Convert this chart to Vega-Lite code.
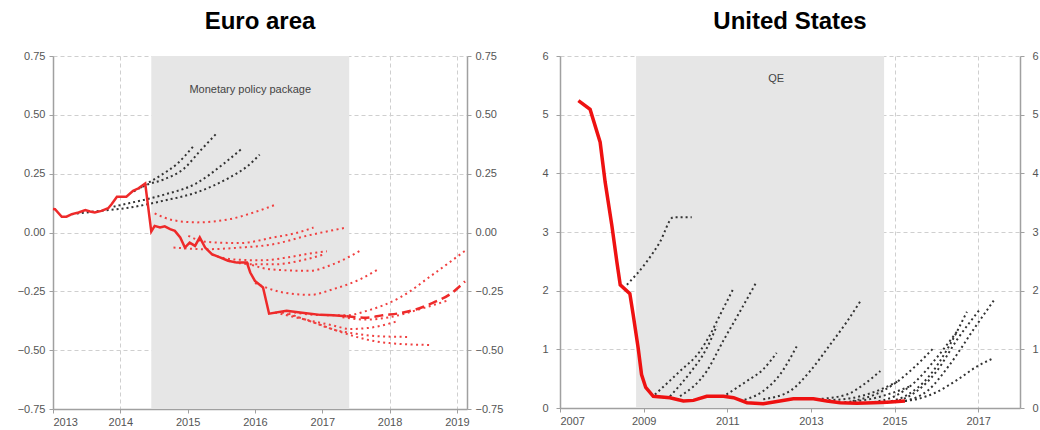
{
  "$schema": "https://vega.github.io/schema/vega-lite/v6.json",
  "padding": {"left": 17, "top": 10, "right": 5, "bottom": 0},
  "spacing": 38,
  "config": {
    "view": {"stroke": null},
    "font": "Liberation Sans",
    "title": {"fontSize": 24, "fontWeight": "bold", "font": "Liberation Sans", "color": "#000", "baseline": "alphabetic", "offset": 16, "anchor": "middle"},
    "axis": {"domainColor": "#a0a0a0", "domainWidth": 1.5, "tickColor": "#a0a0a0", "tickSize": 4, "labelColor": "#555", "labelFontSize": 11, "labelFont": "Liberation Sans", "gridColor": "#cfcfcf", "gridDash": [4, 3], "zindex": 1, "labelPadding": 4}
  },
  "datasets": {
    "euroShade": [{"x0": 2014.46, "x1": 2017.4}],
    "usShade": [{"x0": 2008.82, "x1": 2014.75}],
    "euroSolid": [
      {"x": 2013.0, "y": 0.1}, {"x": 2013.03, "y": 0.099}, {"x": 2013.13, "y": 0.067}, {"x": 2013.2, "y": 0.067}, {"x": 2013.28, "y": 0.078},
      {"x": 2013.38, "y": 0.085}, {"x": 2013.48, "y": 0.095}, {"x": 2013.55, "y": 0.089}, {"x": 2013.62, "y": 0.085}, {"x": 2013.72, "y": 0.092},
      {"x": 2013.82, "y": 0.103}, {"x": 2013.87, "y": 0.12}, {"x": 2013.95, "y": 0.152}, {"x": 2014.09, "y": 0.152}, {"x": 2014.19, "y": 0.177},
      {"x": 2014.27, "y": 0.188}, {"x": 2014.37, "y": 0.208}, {"x": 2014.46, "y": 0.004}, {"x": 2014.51, "y": 0.028}, {"x": 2014.59, "y": 0.021},
      {"x": 2014.66, "y": 0.026}, {"x": 2014.74, "y": 0.014}, {"x": 2014.81, "y": 0.007}, {"x": 2014.89, "y": -0.021}, {"x": 2014.96, "y": -0.064},
      {"x": 2015.03, "y": -0.043}, {"x": 2015.11, "y": -0.057}, {"x": 2015.18, "y": -0.021}, {"x": 2015.26, "y": -0.064}, {"x": 2015.36, "y": -0.092},
      {"x": 2015.48, "y": -0.106}, {"x": 2015.6, "y": -0.12}, {"x": 2015.73, "y": -0.128}, {"x": 2015.88, "y": -0.128}, {"x": 2015.93, "y": -0.17},
      {"x": 2016.0, "y": -0.206}, {"x": 2016.12, "y": -0.234}, {"x": 2016.21, "y": -0.345}, {"x": 2016.47, "y": -0.333}, {"x": 2016.67, "y": -0.34},
      {"x": 2016.97, "y": -0.35}, {"x": 2017.16, "y": -0.352}, {"x": 2017.36, "y": -0.356}
    ],
    "euroDash": [
      {"x": 2017.36, "y": -0.356}, {"x": 2017.66, "y": -0.362}, {"x": 2017.9, "y": -0.352}, {"x": 2018.15, "y": -0.343}, {"x": 2018.4, "y": -0.326},
      {"x": 2018.65, "y": -0.298}, {"x": 2018.9, "y": -0.262}, {"x": 2019.12, "y": -0.208}
    ],
    "euroBlack": [
      {"s": "D", "x": 2013.28, "y": 0.078}, {"s": "D", "x": 2013.7, "y": 0.092}, {"s": "D", "x": 2014.14, "y": 0.106}, {"s": "D", "x": 2014.64, "y": 0.135}, {"s": "D", "x": 2015.13, "y": 0.17}, {"s": "D", "x": 2015.63, "y": 0.235}, {"s": "D", "x": 2015.88, "y": 0.28}, {"s": "D", "x": 2016.07, "y": 0.331},
      {"s": "C", "x": 2013.9, "y": 0.11}, {"s": "C", "x": 2014.14, "y": 0.125}, {"s": "C", "x": 2014.64, "y": 0.16}, {"s": "C", "x": 2015.13, "y": 0.209}, {"s": "C", "x": 2015.53, "y": 0.291}, {"s": "C", "x": 2015.8, "y": 0.355},
      {"s": "B", "x": 2014.2, "y": 0.175}, {"s": "B", "x": 2014.37, "y": 0.2}, {"s": "B", "x": 2014.64, "y": 0.225}, {"s": "B", "x": 2014.94, "y": 0.27}, {"s": "B", "x": 2015.18, "y": 0.345}, {"s": "B", "x": 2015.43, "y": 0.421},
      {"s": "A", "x": 2014.3, "y": 0.19}, {"s": "A", "x": 2014.37, "y": 0.203}, {"s": "A", "x": 2014.59, "y": 0.241}, {"s": "A", "x": 2014.84, "y": 0.291}, {"s": "A", "x": 2015.08, "y": 0.365}
    ],
    "euroRed": [
      {"s": "R1", "x": 2014.51, "y": 0.081}, {"s": "R1", "x": 2014.79, "y": 0.052}, {"s": "R1", "x": 2015.13, "y": 0.043}, {"s": "R1", "x": 2015.63, "y": 0.057}, {"s": "R1", "x": 2015.98, "y": 0.085}, {"s": "R1", "x": 2016.32, "y": 0.12},
      {"s": "R2", "x": 2015.01, "y": -0.014}, {"s": "R2", "x": 2015.28, "y": -0.04}, {"s": "R2", "x": 2015.78, "y": -0.045}, {"s": "R2", "x": 2016.27, "y": -0.021}, {"s": "R2", "x": 2016.6, "y": -0.003}, {"s": "R2", "x": 2016.87, "y": 0.021},
      {"s": "R3", "x": 2014.79, "y": -0.064}, {"s": "R3", "x": 2015.28, "y": -0.071}, {"s": "R3", "x": 2015.78, "y": -0.064}, {"s": "R3", "x": 2016.27, "y": -0.05}, {"s": "R3", "x": 2016.77, "y": -0.014}, {"s": "R3", "x": 2017.36, "y": 0.021},
      {"s": "R4", "x": 2015.36, "y": -0.095}, {"s": "R4", "x": 2015.7, "y": -0.115}, {"s": "R4", "x": 2016.1, "y": -0.118}, {"s": "R4", "x": 2016.5, "y": -0.105}, {"s": "R4", "x": 2016.8, "y": -0.09}, {"s": "R4", "x": 2017.07, "y": -0.08},
      {"s": "R5", "x": 2015.6, "y": -0.12}, {"s": "R5", "x": 2015.95, "y": -0.135}, {"s": "R5", "x": 2016.3, "y": -0.135}, {"s": "R5", "x": 2016.7, "y": -0.118}, {"s": "R5", "x": 2017.0, "y": -0.095},
      {"s": "R6", "x": 2015.88, "y": -0.13}, {"s": "R6", "x": 2016.1, "y": -0.15}, {"s": "R6", "x": 2016.4, "y": -0.16}, {"s": "R6", "x": 2016.8, "y": -0.163}, {"s": "R6", "x": 2017.16, "y": -0.135}, {"s": "R6", "x": 2017.56, "y": -0.078},
      {"s": "R7", "x": 2016.0, "y": -0.215}, {"s": "R7", "x": 2016.42, "y": -0.255}, {"s": "R7", "x": 2016.82, "y": -0.265}, {"s": "R7", "x": 2017.16, "y": -0.241}, {"s": "R7", "x": 2017.56, "y": -0.199}, {"s": "R7", "x": 2017.83, "y": -0.156},
      {"s": "R8", "x": 2016.5, "y": -0.335}, {"s": "R8", "x": 2016.9, "y": -0.35}, {"s": "R8", "x": 2017.36, "y": -0.352}, {"s": "R8", "x": 2017.66, "y": -0.333}, {"s": "R8", "x": 2018.15, "y": -0.277}, {"s": "R8", "x": 2018.65, "y": -0.177}, {"s": "R8", "x": 2019.12, "y": -0.078},
      {"s": "R9", "x": 2017.3, "y": -0.36}, {"s": "R9", "x": 2017.66, "y": -0.37}, {"s": "R9", "x": 2018.0, "y": -0.36}, {"s": "R9", "x": 2018.4, "y": -0.33}, {"s": "R9", "x": 2018.85, "y": -0.29},
      {"s": "R10", "x": 2016.3, "y": -0.34}, {"s": "R10", "x": 2016.67, "y": -0.365}, {"s": "R10", "x": 2017.16, "y": -0.395}, {"s": "R10", "x": 2017.41, "y": -0.41}, {"s": "R10", "x": 2017.7, "y": -0.405}, {"s": "R10", "x": 2018.13, "y": -0.376},
      {"s": "R11", "x": 2016.4, "y": -0.34}, {"s": "R11", "x": 2016.8, "y": -0.375}, {"s": "R11", "x": 2017.2, "y": -0.415}, {"s": "R11", "x": 2017.5, "y": -0.43}, {"s": "R11", "x": 2017.8, "y": -0.44}, {"s": "R11", "x": 2018.3, "y": -0.444},
      {"s": "R12", "x": 2016.5, "y": -0.345}, {"s": "R12", "x": 2016.9, "y": -0.385}, {"s": "R12", "x": 2017.3, "y": -0.425}, {"s": "R12", "x": 2017.66, "y": -0.455}, {"s": "R12", "x": 2018.0, "y": -0.47}, {"s": "R12", "x": 2018.6, "y": -0.478}
    ],
    "usSolid": [
      {"x": 2007.44, "y": 5.24}, {"x": 2007.72, "y": 5.09}, {"x": 2007.96, "y": 4.53}, {"x": 2008.08, "y": 3.85}, {"x": 2008.24, "y": 3.11},
      {"x": 2008.36, "y": 2.49}, {"x": 2008.44, "y": 2.1}, {"x": 2008.67, "y": 1.95}, {"x": 2008.75, "y": 1.59}, {"x": 2008.87, "y": 1.02},
      {"x": 2008.95, "y": 0.57}, {"x": 2009.05, "y": 0.35}, {"x": 2009.23, "y": 0.2}, {"x": 2009.63, "y": 0.175}, {"x": 2009.95, "y": 0.12},
      {"x": 2010.19, "y": 0.13}, {"x": 2010.51, "y": 0.2}, {"x": 2010.91, "y": 0.2}, {"x": 2011.15, "y": 0.175}, {"x": 2011.47, "y": 0.09},
      {"x": 2011.86, "y": 0.073}, {"x": 2012.26, "y": 0.12}, {"x": 2012.58, "y": 0.158}, {"x": 2013.06, "y": 0.158}, {"x": 2013.38, "y": 0.12},
      {"x": 2013.7, "y": 0.09}, {"x": 2014.1, "y": 0.08}, {"x": 2014.5, "y": 0.09}, {"x": 2014.82, "y": 0.1}, {"x": 2015.25, "y": 0.12}
    ],
    "usBlack": [
      {"s": "K1", "x": 2008.6, "y": 2.1}, {"s": "K1", "x": 2009.07, "y": 2.49}, {"s": "K1", "x": 2009.39, "y": 2.83}, {"s": "K1", "x": 2009.71, "y": 3.25}, {"s": "K1", "x": 2010.15, "y": 3.25},
      {"s": "K2", "x": 2009.27, "y": 0.23}, {"s": "K2", "x": 2009.87, "y": 0.63}, {"s": "K2", "x": 2010.35, "y": 0.97}, {"s": "K2", "x": 2010.59, "y": 1.25}, {"s": "K2", "x": 2010.83, "y": 1.59}, {"s": "K2", "x": 2011.15, "y": 2.04},
      {"s": "K2b", "x": 2009.63, "y": 0.2}, {"s": "K2b", "x": 2010.11, "y": 0.6}, {"s": "K2b", "x": 2010.51, "y": 1.02}, {"s": "K2b", "x": 2010.75, "y": 1.4},
      {"s": "K3", "x": 2009.87, "y": 0.2}, {"s": "K3", "x": 2010.51, "y": 0.63}, {"s": "K3", "x": 2010.9, "y": 1.14}, {"s": "K3", "x": 2011.3, "y": 1.64}, {"s": "K3", "x": 2011.7, "y": 2.15},
      {"s": "K4", "x": 2010.98, "y": 0.23}, {"s": "K4", "x": 2011.47, "y": 0.46}, {"s": "K4", "x": 2011.86, "y": 0.66}, {"s": "K4", "x": 2012.18, "y": 0.94},
      {"s": "K5", "x": 2011.3, "y": 0.12}, {"s": "K5", "x": 2011.86, "y": 0.29}, {"s": "K5", "x": 2012.26, "y": 0.57}, {"s": "K5", "x": 2012.66, "y": 1.05},
      {"s": "K6", "x": 2011.86, "y": 0.15}, {"s": "K6", "x": 2012.5, "y": 0.29}, {"s": "K6", "x": 2012.98, "y": 0.63}, {"s": "K6", "x": 2013.46, "y": 1.08}, {"s": "K6", "x": 2013.86, "y": 1.47}, {"s": "K6", "x": 2014.2, "y": 1.84},
      {"s": "K7", "x": 2013.14, "y": 0.15}, {"s": "K7", "x": 2013.86, "y": 0.23}, {"s": "K7", "x": 2014.26, "y": 0.4}, {"s": "K7", "x": 2014.66, "y": 0.63},
      {"s": "K14", "x": 2013.3, "y": 0.13}, {"s": "K14", "x": 2013.9, "y": 0.16}, {"s": "K14", "x": 2014.5, "y": 0.27}, {"s": "K14", "x": 2015.1, "y": 0.46},
      {"s": "K15", "x": 2013.8, "y": 0.1}, {"s": "K15", "x": 2014.4, "y": 0.15}, {"s": "K15", "x": 2015.0, "y": 0.27}, {"s": "K15", "x": 2015.4, "y": 0.38},
      {"s": "K8", "x": 2014.0, "y": 0.12}, {"s": "K8", "x": 2014.5, "y": 0.22}, {"s": "K8", "x": 2014.97, "y": 0.4}, {"s": "K8", "x": 2015.45, "y": 0.68}, {"s": "K8", "x": 2015.93, "y": 1.02},
      {"s": "K9", "x": 2014.5, "y": 0.1}, {"s": "K9", "x": 2015.0, "y": 0.2}, {"s": "K9", "x": 2015.5, "y": 0.45}, {"s": "K9", "x": 2016.0, "y": 0.85}, {"s": "K9", "x": 2016.49, "y": 1.3},
      {"s": "K10", "x": 2014.8, "y": 0.1}, {"s": "K10", "x": 2015.3, "y": 0.22}, {"s": "K10", "x": 2015.8, "y": 0.52}, {"s": "K10", "x": 2016.3, "y": 1.05}, {"s": "K10", "x": 2016.73, "y": 1.64},
      {"s": "K11", "x": 2015.0, "y": 0.1}, {"s": "K11", "x": 2015.5, "y": 0.27}, {"s": "K11", "x": 2016.0, "y": 0.62}, {"s": "K11", "x": 2016.5, "y": 1.17}, {"s": "K11", "x": 2017.05, "y": 1.69},
      {"s": "K12", "x": 2015.25, "y": 0.12}, {"s": "K12", "x": 2015.8, "y": 0.3}, {"s": "K12", "x": 2016.3, "y": 0.72}, {"s": "K12", "x": 2016.9, "y": 1.35}, {"s": "K12", "x": 2017.41, "y": 1.87},
      {"s": "K13", "x": 2015.25, "y": 0.12}, {"s": "K13", "x": 2015.53, "y": 0.15}, {"s": "K13", "x": 2016.0, "y": 0.27}, {"s": "K13", "x": 2016.5, "y": 0.48}, {"s": "K13", "x": 2017.0, "y": 0.72}, {"s": "K13", "x": 2017.37, "y": 0.85}
    ]
  },
  "hconcat": [
    {
      "title": {"text": "Euro area"},
      "width": 414,
      "height": 353,
      "layer": [
        {
          "data": {"name": "euroShade"},
          "mark": {"type": "rect", "color": "#e6e6e6"},
          "encoding": {
            "x": {"field": "x0", "type": "quantitative", "scale": {"domain": [2013, 2019.15], "nice": false, "zero": false},
                  "axis": {"values": [2013, 2014, 2015, 2016, 2017, 2018, 2019], "format": "d", "title": null, "grid": true, "labelPadding": 3}},
            "x2": {"field": "x1"}
          }
        },
        {
          "mark": {"type": "rule", "color": "#aaaaaa", "strokeWidth": 2},
          "encoding": {"y": {"datum": 0, "type": "quantitative", "axis": null}}
        },
        {
          "data": {"name": "euroBlack"},
          "mark": {"type": "line", "color": "#333333", "strokeWidth": 2, "strokeDash": [2, 3], "interpolate": "monotone"},
          "encoding": {
            "x": {"field": "x", "type": "quantitative"},
            "y": {"field": "y", "type": "quantitative", "scale": {"domain": [-0.75, 0.75], "nice": false},
                  "axis": {"orient": "left", "values": [-0.75, -0.5, -0.25, 0, 0.25, 0.5, 0.75], "format": ".2f", "title": null, "grid": true}},
            "detail": {"field": "s"}
          }
        },
        {
          "data": {"name": "euroRed"},
          "mark": {"type": "line", "color": "#f04040", "strokeWidth": 2, "strokeDash": [2, 3.5], "interpolate": "monotone"},
          "encoding": {
            "x": {"field": "x", "type": "quantitative"},
            "y": {"field": "y", "type": "quantitative", "axis": null},
            "detail": {"field": "s"}
          }
        },
        {
          "data": {"name": "euroDash"},
          "mark": {"type": "line", "color": "#ee2a2a", "strokeWidth": 2.5, "strokeDash": [9, 5], "interpolate": "monotone"},
          "encoding": {
            "x": {"field": "x", "type": "quantitative"},
            "y": {"field": "y", "type": "quantitative", "axis": null}
          }
        },
        {
          "data": {"name": "euroSolid"},
          "mark": {"type": "line", "color": "#ee2a2a", "strokeWidth": 2.5},
          "encoding": {
            "x": {"field": "x", "type": "quantitative"},
            "y": {"field": "y", "type": "quantitative",
                  "axis": {"orient": "right", "values": [-0.75, -0.5, -0.25, 0, 0.25, 0.5, 0.75], "format": ".2f", "title": null, "grid": false}}
          }
        },
        {
          "data": {"values": [{"x": 2015.93, "y": 0.604, "label": "Monetary policy package"}]},
          "mark": {"type": "text", "fontSize": 11, "color": "#444444"},
          "encoding": {
            "x": {"field": "x", "type": "quantitative"},
            "y": {"field": "y", "type": "quantitative", "axis": null},
            "text": {"field": "label"}
          }
        }
      ],
      "resolve": {"axis": {"y": "independent"}}
    },
    {
      "title": {"text": "United States"},
      "width": 460,
      "height": 352,
      "layer": [
        {
          "data": {"name": "usShade"},
          "mark": {"type": "rect", "color": "#e6e6e6"},
          "encoding": {
            "x": {"field": "x0", "type": "quantitative", "scale": {"domain": [2007, 2018], "nice": false, "zero": false},
                  "axis": {"values": [2007, 2009, 2011, 2013, 2015, 2017], "format": "d", "title": null, "grid": true, "labelPadding": 3}},
            "x2": {"field": "x1"}
          }
        },
        {
          "data": {"name": "usBlack"},
          "mark": {"type": "line", "color": "#333333", "strokeWidth": 2, "strokeDash": [2, 3], "interpolate": "monotone"},
          "encoding": {
            "x": {"field": "x", "type": "quantitative"},
            "y": {"field": "y", "type": "quantitative", "scale": {"domain": [0, 6], "nice": false},
                  "axis": {"orient": "left", "values": [0, 1, 2, 3, 4, 5, 6], "format": "d", "title": null, "grid": true, "labelPadding": 8}},
            "detail": {"field": "s"}
          }
        },
        {
          "data": {"name": "usSolid"},
          "mark": {"type": "line", "color": "#ee1111", "strokeWidth": 3.5},
          "encoding": {
            "x": {"field": "x", "type": "quantitative"},
            "y": {"field": "y", "type": "quantitative",
                  "axis": {"orient": "right", "values": [0, 1, 2, 3, 4, 5, 6], "format": "d", "title": null, "grid": false, "labelPadding": 8}}
          }
        },
        {
          "data": {"values": [{"x": 2012.17, "y": 5.61, "label": "QE"}]},
          "mark": {"type": "text", "fontSize": 11, "color": "#444444"},
          "encoding": {
            "x": {"field": "x", "type": "quantitative"},
            "y": {"field": "y", "type": "quantitative", "axis": null},
            "text": {"field": "label"}
          }
        }
      ],
      "resolve": {"axis": {"y": "independent"}}
    }
  ]
}
